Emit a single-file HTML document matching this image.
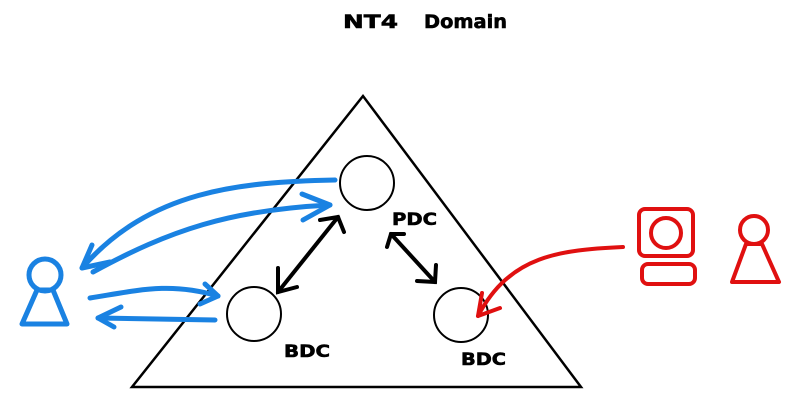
<!DOCTYPE html>
<html><head><meta charset="utf-8"><style>
html,body{margin:0;padding:0;background:#fff;}
svg{display:block;}
text{font-family:"DejaVu Sans","Liberation Sans",sans-serif;font-weight:bold;fill:#000;stroke:#000;stroke-width:0.6;}
</style></head><body>
<svg width="795" height="414" viewBox="0 0 795 414" xmlns="http://www.w3.org/2000/svg">
<rect width="795" height="414" fill="#fff"/>
<text x="343" y="28" font-size="19" textLength="55" lengthAdjust="spacingAndGlyphs">NT4</text>
<text x="424" y="28" font-size="19" textLength="83" lengthAdjust="spacingAndGlyphs">Domain</text>
<polygon points="363,96 132,387 581,387" fill="none" stroke="#000" stroke-width="2.5"/>
<g fill="none" stroke="#000" stroke-width="2">
<circle cx="367" cy="183" r="27"/>
<circle cx="254" cy="314" r="27"/>
<circle cx="461" cy="315" r="27"/>
</g>
<text x="392" y="225" font-size="17" textLength="45" lengthAdjust="spacingAndGlyphs">PDC</text>
<text x="284" y="357" font-size="17" textLength="46" lengthAdjust="spacingAndGlyphs">BDC</text>
<text x="461" y="365" font-size="17" textLength="45" lengthAdjust="spacingAndGlyphs">BDC</text>
<g fill="none" stroke="#000" stroke-width="4" stroke-linecap="round">
<line x1="278" y1="292" x2="338" y2="217"/>
<polyline points="278,268 278,292 297,287"/>
<polyline points="320,220 338,217 344,232"/>
<line x1="391" y1="234" x2="435" y2="282"/>
<polyline points="387,247 391,234 404,234"/>
<polyline points="417,281 435,282 436,265"/>
</g>
<g fill="none" stroke="#1a82e2" stroke-width="5" stroke-linecap="round" stroke-linejoin="round">
<circle cx="45" cy="275" r="16"/>
<polygon points="37,290 53,290 67,324 22,324"/>
<path d="M335,180 C240,182 150,190 82,268"/>
<polyline points="92,245 82,268 110,262"/>
<path d="M93,272 C170,230 230,210 330,205"/>
<polyline points="302,194 330,205 303,220"/>
<path d="M90,298 C140,290 170,282 218,296"/>
<polyline points="205,284 218,296 200,304"/>
<path d="M215,320 L98,318"/>
<polyline points="121,307 98,318 114,327"/>
</g>
<g fill="none" stroke="#e01010" stroke-width="4" stroke-linecap="round" stroke-linejoin="round">
<rect x="639" y="209" width="54" height="47" rx="6"/>
<circle cx="666" cy="233" r="15"/>
<rect x="642" y="264" width="53" height="20" rx="6"/>
<circle cx="754" cy="230" r="14"/>
<polygon points="746,244 762,244 779,282 732,282"/>
<path d="M623,247 C560,250 510,255 478,316"/>
<polyline points="482,293 478,316 500,308"/>
</g>
</svg>
</body></html>
